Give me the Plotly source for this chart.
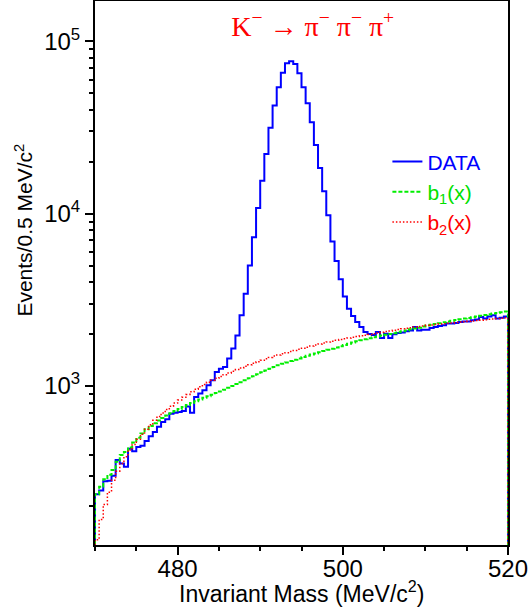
import numpy as np
import plotly.graph_objects as go

# ---------------- data ----------------
bin_width = 0.5
bin_low = np.arange(470.0, 520.0, bin_width)  # 100 bins, 470.0 ... 519.5

data_counts = [
    235, 247, 280, 282, 301, 372, 355, 340, 432, 418,
    443, 450, 480, 511, 541, 579, 618, 640, 690, 700,
    707, 715, 760, 700, 863, 903, 944, 1010, 1080, 1205,
    1260, 1290, 1442, 1647, 1965, 2570, 3430, 5000, 7300, 10800,
    15500, 22200, 31500, 42400, 54100, 65600, 74600, 76600, 73900, 65300,
    54100, 43700, 33900, 25000, 18400, 13500, 9780, 6900, 5310, 4160,
    3310, 2810, 2550, 2350, 2200, 2055, 2000, 1975, 2055, 1900,
    2010, 1900, 1995, 2030, 2040, 2075, 2100, 2200, 2100, 2120,
    2120, 2170, 2200, 2230, 2250, 2300, 2300, 2320, 2350, 2370,
    2370, 2410, 2430, 2510, 2460, 2530, 2570, 2460, 2490, 2530,
]

b1_counts = [
    235, 260, 287, 305, 325, 363, 397, 414, 440, 470,
    500, 530, 560, 585, 608, 630, 652, 674, 695, 715,
    735, 755, 775, 795, 815, 835, 855, 872, 890, 910,
    930, 952, 975, 1000, 1025, 1052, 1080, 1110, 1140, 1170,
    1200, 1230, 1260, 1290, 1320, 1345, 1370, 1395, 1420, 1445,
    1470, 1495, 1520, 1545, 1570, 1595, 1620, 1645, 1670, 1700,
    1730, 1760, 1790, 1815, 1840, 1865, 1890, 1915, 1935, 1960,
    1980, 2005, 2025, 2050, 2075, 2100, 2130, 2155, 2180, 2210,
    2240, 2265, 2290, 2315, 2340, 2365, 2390, 2415, 2440, 2460,
    2480, 2505, 2530, 2555, 2580, 2605, 2630, 2655, 2680, 2705,
]

b2_counts = [
    128, 168, 205, 242, 284, 320, 355, 388, 425, 458,
    490, 525, 560, 595, 632, 665, 697, 730, 762, 795,
    828, 860, 893, 925, 958, 990, 1020, 1050, 1080, 1107,
    1135, 1162, 1190, 1217, 1245, 1272, 1300, 1327, 1355, 1382,
    1410, 1437, 1465, 1490, 1512, 1536, 1560, 1584, 1608, 1632,
    1656, 1680, 1704, 1728, 1752, 1776, 1800, 1820, 1842, 1862,
    1880, 1898, 1917, 1935, 1954, 1972, 1990, 2010, 2030, 2048,
    2067, 2085, 2105, 2125, 2145, 2162, 2180, 2197, 2214, 2231,
    2248, 2260, 2272, 2285, 2297, 2310, 2322, 2335, 2347, 2360,
    2372, 2385, 2397, 2410, 2422, 2435, 2447, 2460, 2472, 2485,
]

x_tick_vals = [480, 500, 520]
y_tick_vals = [1e3, 1e4, 1e5]
y_tick_text = ["10<sup>3</sup>", "10<sup>4</sup>", "10<sup>5</sup>"]

# ---------------- helpers ----------------
FLOOR = 10.0  # below the visible range -> histogram edges drop to the frame


def hist_xy(vals):
    x_end = float(bin_low[-1] + bin_width)
    xs = [float(bin_low[0])] + [float(v) for v in bin_low] + [x_end, x_end]
    ys = [FLOOR] + list(vals) + [vals[-1], FLOOR]
    return xs, ys


fig = go.Figure()

series = [
    ("<span style='color:#0000ff'>DATA</span>", data_counts, "#0000ff", "solid", 2.0),
    ("<span style='color:#00e000'>b<sub>1</sub>(x)</span>", b1_counts, "#00ee00", "4px,2px", 2.0),
    ("<span style='color:#ff0000'>b<sub>2</sub>(x)</span>", b2_counts, "#ff0000", "1.5px,2px", 1.5),
]
for name, vals, color, dash, width in series:
    xs, ys = hist_xy(vals)
    fig.add_trace(go.Scatter(
        x=xs, y=ys, mode="lines", name=name,
        line=dict(shape="hv", color=color, dash=dash, width=width),
        hoverinfo="skip",
    ))

fig.update_layout(
    width=530, height=611,
    margin=dict(l=95, r=22, t=1, b=66, autoexpand=False),
    paper_bgcolor="white", plot_bgcolor="white",
    font=dict(family="Liberation Sans, Arial, sans-serif", color="black"),
    title=dict(
        text="K<sup>\u2212</sup> \u2192 \u03c0<sup>\u2212</sup> \u03c0<sup>\u2212</sup> \u03c0<sup>+</sup>",
        font=dict(family="Liberation Serif, Times New Roman, serif", size=28, color="#ff0000"),
        x=0.59, y=0.957, xanchor="center", yanchor="middle",
    ),
    showlegend=True,
    legend=dict(
        x=0.708, y=0.742, xanchor="left", yanchor="top",
        bgcolor="rgba(0,0,0,0)", borderwidth=0,
        font=dict(size=21), itemwidth=30, tracegroupgap=0,
    ),
    xaxis=dict(
        range=[470, 520], tickvals=x_tick_vals,
        ticks="outside", ticklen=8, tickwidth=1.5, tickcolor="black",
        showline=True, linewidth=2, linecolor="black", mirror=True,
        showgrid=False, zeroline=False,
        tickfont=dict(size=24), ticklabelstandoff=-7,
        minor=dict(ticks="outside", ticklen=4, tickwidth=1.5, tickcolor="black",
                   dtick=5, tick0=470, showgrid=False),
    ),
    yaxis=dict(
        type="log", range=[2.077, 5.234],
        tickvals=y_tick_vals, ticktext=y_tick_text,
        ticks="outside", ticklen=8, tickwidth=1.5, tickcolor="black",
        showline=True, linewidth=2, linecolor="black", mirror=True,
        showgrid=False, zeroline=False,
        tickfont=dict(size=24),
        minor=dict(ticks="outside", ticklen=4, tickwidth=1.5, tickcolor="black",
                   dtick="D1", showgrid=False),
    ),
    annotations=[
        dict(
            text="Events/0.5 MeV/c<sup>2</sup>", textangle=-90,
            xref="paper", yref="paper", x=-0.173, y=0.579,
            xanchor="center", yanchor="middle", showarrow=False,
            font=dict(size=21),
        ),
        dict(
            text="Invariant Mass (MeV/c<sup>2</sup>)",
            xref="paper", yref="paper", x=0.5, y=-0.087,
            xanchor="center", yanchor="middle", showarrow=False,
            font=dict(size=23),
        ),
    ],
)

fig.write_html("out.html", config={"displayModeBar": False},
               post_script="document.body.style.margin='0';")
